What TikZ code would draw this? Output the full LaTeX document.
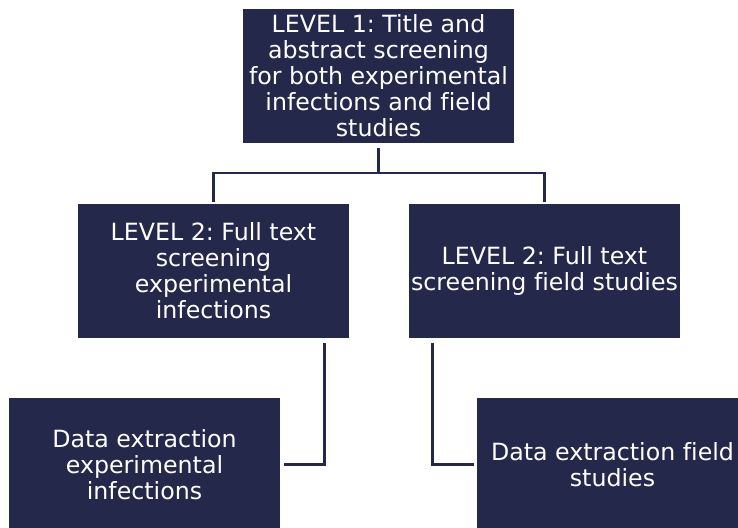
\documentclass[tikz,border=0pt]{standalone}
\usepackage{fontspec}
\setmainfont[Ligatures=NoCommon]{DejaVu Sans}
\usepackage{tikz}
\definecolor{navy}{RGB}{36,41,75}
\frenchspacing

\begin{document}
\begin{tikzpicture}[x=1pt,y=-1pt,line width=2.8pt,box/.style={fill=navy,text=white,inner sep=0pt,minimum width=271pt,minimum height=134pt,align=center,font=\fontsize{23.7}{26}\selectfont},link/.style={draw=navy,line width=2.8pt}]
\useasboundingbox (0,0) rectangle (738,527);
\node[box] (lev1) at (378.5,76) {LEVEL 1: Title and\\abstract screening\\for both experimental\\infections and field\\studies};
\node[box] (lev2a) at (213.5,270.5) {LEVEL 2: Full text\\screening\\experimental\\infections};
\node[box] (lev2b) at (544.5,270.5) {LEVEL 2: Full text\\screening field studies};
\node[box] (dataa) at (144.5,464.5) {Data extraction\\experimental\\infections};
\node[box] (datab) at (612.5,464.5) {Data extraction field\\studies};
\coordinate (fork) at (378.5,173);
\draw[link,shorten <=4pt] (lev1.south) -- (fork);
\draw[link] (fork) -| (lev2a.north);
\draw[link] (fork) -| (lev2b.north);
\draw[link,shorten <=4pt,shorten >=3pt] ([xshift=-26pt]lev2a.south east) |- (dataa.east);
\draw[link,shorten <=4pt,shorten >=2pt] ([xshift=25pt]lev2b.south west) |- (datab.west);
\end{tikzpicture}
\end{document}
